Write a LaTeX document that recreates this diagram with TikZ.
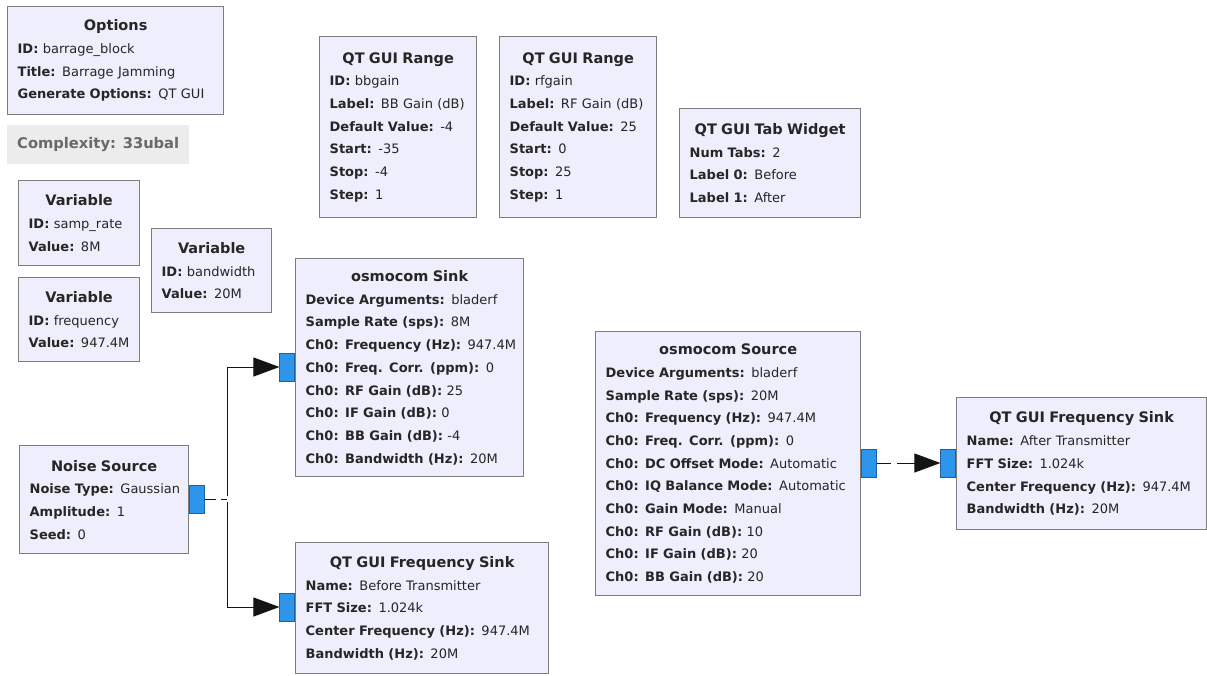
\documentclass[tikz,border=0pt]{standalone}
\usepackage{fontspec}
\setmainfont{DejaVu Sans}
\usepackage{tikz}
\usetikzlibrary{arrows.meta}
\definecolor{blockfill}{RGB}{238,238,252}
\definecolor{blockline}{RGB}{125,125,125}
\definecolor{portblue}{RGB}{45,150,235}
\definecolor{portline}{RGB}{30,95,165}
\definecolor{wirecol}{RGB}{20,20,20}
\definecolor{cplxfill}{RGB}{236,236,236}
\definecolor{cplxtext}{RGB}{105,105,105}
\newcommand{\blktitle}[1]{{\centering\fontsize{14.5}{22.7}\selectfont\bfseries #1\par}}
\newcommand{\fld}[2]{\par\mbox{\textbf{#1:} #2}}

\begin{document}
\begin{tikzpicture}[x=1pt, y=-1pt,
    block/.style={draw=blockline, fill=blockfill, line width=1.3pt, anchor=north west, align=left, inner xsep=10pt, inner ysep=0pt, font=\fontsize{13}{22.7}\selectfont, text=black!85},
    port/.style={draw=portline, fill=portblue, line width=0.6pt, minimum width=15pt, minimum height=28pt, inner sep=0pt},
    link/.style={draw=wirecol, line width=1pt, -{Triangle[length=26pt,width=19pt]}}]
    \path[use as bounding box, fill=white] (0,0) rectangle (1207,675);

    % Options
    \node[block, text width=196pt, minimum height=108pt] (options) at (7,6) {\blktitle{Options}\fld{ID}{barrage\_block}\fld{Title}{Barrage Jamming}\fld{Generate Options}{QT GUI}};
    \node[fill=cplxfill, anchor=north west, minimum width=182pt, minimum height=39pt, inner sep=0pt, text=cplxtext, font=\fontsize{14.7}{17}\selectfont\bfseries] (cplx) at (7,125) {Complexity: 33ubal};

    % Variables
    \node[block, text width=101pt, minimum height=85pt] (samprate) at (18,180) {\blktitle{Variable}\fld{ID}{samp\_rate}\fld{Value}{8M}};
    \node[block, text width=101pt, minimum height=84pt] (freq) at (18,277) {\blktitle{Variable}\fld{ID}{frequency}\fld{Value}{947.4M}};
    \node[block, text width=100pt, minimum height=84pt] (bw) at (151,228) {\blktitle{Variable}\fld{ID}{bandwidth}\fld{Value}{20M}};

    % GUI widgets
    \node[block, text width=137pt, minimum height=181pt] (bbgain) at (319,36) {\blktitle{QT GUI Range}\fld{ID}{bbgain}\fld{Label}{BB Gain (dB)}\fld{Default Value}{-4}\fld{Start}{-35}\fld{Stop}{-4}\fld{Step}{1}};
    \node[block, text width=137pt, minimum height=181pt] (rfgain) at (499,36) {\blktitle{QT GUI Range}\fld{ID}{rfgain}\fld{Label}{RF Gain (dB)}\fld{Default Value}{25}\fld{Start}{0}\fld{Stop}{25}\fld{Step}{1}};
    \node[block, text width=161pt, minimum height=109pt] (tabs) at (679,108) {\blktitle{QT GUI Tab Widget}\fld{Num Tabs}{2}\fld{Label 0}{Before}\fld{Label 1}{After}};

    % Transmit chain
    \node[block, text width=149pt, minimum height=108pt] (noise) at (19,445) {\blktitle{Noise Source}\fld{Noise Type}{Gaussian}\fld{Amplitude}{1}\fld{Seed}{0}};
    \node[block, text width=208pt, minimum height=218pt] (sink) at (295,258) {\blktitle{osmocom Sink}\fld{Device Arguments}{bladerf}\fld{Sample Rate (sps)}{8M}\fld{Ch0: Frequency (Hz)}{947.4M}\fld{Ch0: Freq. Corr. (ppm)}{0}\fld{Ch0: RF Gain (dB)}{25}\fld{Ch0: IF Gain (dB)}{0}\fld{Ch0: BB Gain (dB)}{-4}\fld{Ch0: Bandwidth (Hz)}{20M}};
    \node[block, text width=233pt, minimum height=131pt] (before) at (295,542) {\blktitle{QT GUI Frequency Sink}\fld{Name}{Before Transmitter}\fld{FFT Size}{1.024k}\fld{Center Frequency (Hz)}{947.4M}\fld{Bandwidth (Hz)}{20M}};

    % Receive chain
    \node[block, text width=245pt, minimum height=264pt] (source) at (595,331) {\blktitle{osmocom Source}\fld{Device Arguments}{bladerf}\fld{Sample Rate (sps)}{20M}\fld{Ch0: Frequency (Hz)}{947.4M}\fld{Ch0: Freq. Corr. (ppm)}{0}\fld{Ch0: DC Offset Mode}{Automatic}\fld{Ch0: IQ Balance Mode}{Automatic}\fld{Ch0: Gain Mode}{Manual}\fld{Ch0: RF Gain (dB)}{10}\fld{Ch0: IF Gain (dB)}{20}\fld{Ch0: BB Gain (dB)}{20}};
    \node[block, text width=230pt, minimum height=132pt] (after) at (956,397) {\blktitle{QT GUI Frequency Sink}\fld{Name}{After Transmitter}\fld{FFT Size}{1.024k}\fld{Center Frequency (Hz)}{947.4M}\fld{Bandwidth (Hz)}{20M}};

    % Ports
    \node[port, anchor=west] (noiseout) at (noise.east |- 0,499) {};
    \node[port, anchor=east] (sinkin) at (sink.west |- 0,367) {};
    \node[port, anchor=east] (beforein) at (before.west |- 0,607) {};
    \node[port, anchor=west] (srcout) at (source.east |- 0,463) {};
    \node[port, anchor=east] (afterin) at (after.west |- 0,463) {};

    % Connections
    \coordinate (split) at (227,499);
    \draw[link, dash pattern=on 11pt off 5pt on 6pt off 3pt on 500pt off 1pt] (noiseout.east) -- (split) |- (sinkin.west);
    \draw[link, dash pattern=on 11pt off 5pt on 6pt off 3pt on 500pt off 1pt] (noiseout.east) -- (split) |- (beforein.west);
    \draw[link, dash pattern=on 14pt off 6pt on 200pt off 1pt] (srcout.east) -- (afterin.west);

\end{tikzpicture}
\end{document}
